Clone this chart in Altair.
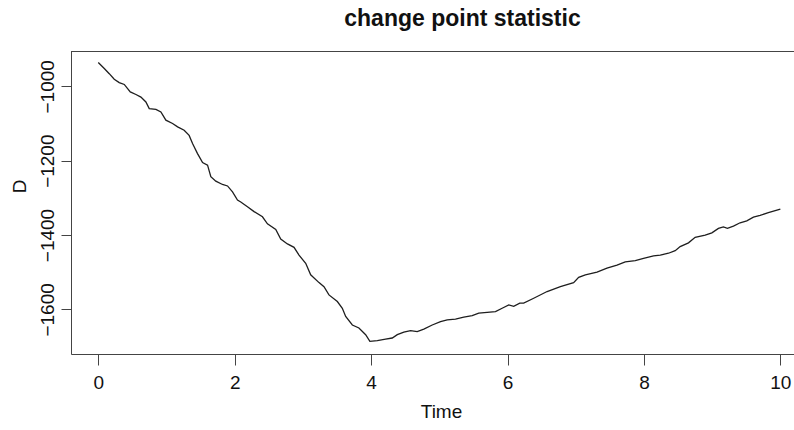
import altair as alt
import pandas as pd

time = [0.0, 0.088, 0.161, 0.234, 0.307, 0.381, 0.430, 0.469, 0.552, 0.625, 0.698, 0.747,
        0.845, 0.918, 0.991, 1.089, 1.163, 1.259, 1.332, 1.382, 1.455, 1.529, 1.602, 1.650,
        1.723, 1.821, 1.895, 1.968, 2.041, 2.089, 2.187, 2.284, 2.407, 2.480, 2.602, 2.675,
        2.773, 2.870, 2.943, 3.041, 3.114, 3.236, 3.309, 3.382, 3.505, 3.578, 3.627, 3.725,
        3.821, 3.920, 3.982, 4.091, 4.212, 4.310, 4.384, 4.480, 4.578, 4.676, 4.773, 4.896,
        5.018, 5.116, 5.237, 5.359, 5.482, 5.578, 5.701, 5.823, 5.921, 6.018, 6.091, 6.179,
        6.237, 6.384, 6.580, 6.775, 6.969, 7.043, 7.141, 7.312, 7.458, 7.605, 7.726, 7.873,
        7.994, 8.141, 8.239, 8.360, 8.458, 8.531, 8.653, 8.751, 8.898, 8.996, 9.092, 9.165,
        9.224, 9.312, 9.410, 9.508, 9.605, 9.703, 9.824, 10.0]
d_stat = [-936, -952, -966, -981, -990, -995, -1006, -1015, -1022, -1029, -1042, -1060,
          -1062, -1069, -1091, -1100, -1109, -1118, -1132, -1154, -1181, -1205, -1212, -1243,
          -1255, -1264, -1268, -1284, -1306, -1311, -1324, -1337, -1351, -1370, -1385, -1411,
          -1424, -1433, -1454, -1476, -1507, -1528, -1539, -1561, -1579, -1597, -1619, -1642,
          -1650, -1668, -1686, -1684, -1680, -1677, -1668, -1661, -1657, -1660, -1653, -1642,
          -1633, -1628, -1626, -1621, -1617, -1610, -1608, -1606, -1597, -1588, -1592, -1583,
          -1583, -1570, -1552, -1539, -1528, -1514, -1507, -1500, -1489, -1481, -1472, -1469,
          -1463, -1456, -1454, -1449, -1442, -1431, -1421, -1406, -1400, -1394, -1382, -1378,
          -1382, -1376, -1367, -1362, -1352, -1347, -1340, -1330]

x_ticks = [0, 2, 4, 6, 8, 10]
y_ticks = [-1600, -1400, -1200, -1000]

df = pd.DataFrame({"Time": time, "D": d_stat})

FONT = "Liberation Sans, Arial, Helvetica, sans-serif"
W, H = 723, 303
FRAME = "#444"

line = alt.Chart(df).mark_line(color="#1e1e1e", strokeWidth=1.3, clip=True).encode(
    x=alt.X("Time:Q",
            scale=alt.Scale(domain=[-0.4, 10.2], nice=False, zero=False),
            axis=alt.Axis(values=x_ticks, title="Time", grid=False, format="d",
                          tickSize=11, tickColor=FRAME, domainColor=FRAME,
                          labelFont=FONT, labelFontSize=19, labelColor="#111",
                          labelPadding=8, labelFlush=False,
                          titleFont=FONT, titleFontSize=19, titleFontWeight="normal",
                          titleColor="#111", titleBaseline="alphabetic", titleY=63,
                          titleX=370)),
    y=alt.Y("D:Q",
            scale=alt.Scale(domain=[-1720, -905], nice=False, zero=False),
            axis=alt.Axis(values=y_ticks, title="D", grid=False, format="d",
                          tickSize=10, tickColor=FRAME, domainColor=FRAME,
                          labelFont=FONT, labelFontSize=19, labelColor="#111",
                          labelAngle=270, labelAlign="center", labelBaseline="alphabetic",
                          labelPadding=8, labelFlush=False,
                          titleFont=FONT, titleFontSize=19, titleFontWeight="normal",
                          titleColor="#111", titleAngle=270, titleBaseline="alphabetic",
                          titleX=-46, titleY=135)),
)

top_border = alt.Chart(df).mark_rule(color=FRAME, strokeWidth=1).encode(
    x=alt.value(0), x2=alt.value(W), y=alt.value(0.5)
)

chart = alt.layer(line, top_border).properties(
    width=W, height=H,
    title=alt.TitleParams("change point statistic", font=FONT, fontSize=23,
                          fontWeight="bold", color="#111", anchor="middle",
                          dx=30, offset=2, baseline="alphabetic"),
    autosize=alt.AutoSizeParams(type="none"),
    padding={"left": 71, "top": 51, "right": 0, "bottom": 76},
).configure_view(stroke=None).configure(background="white")

chart.save("out.html", embed_options={"renderer": "svg", "actions": False})
